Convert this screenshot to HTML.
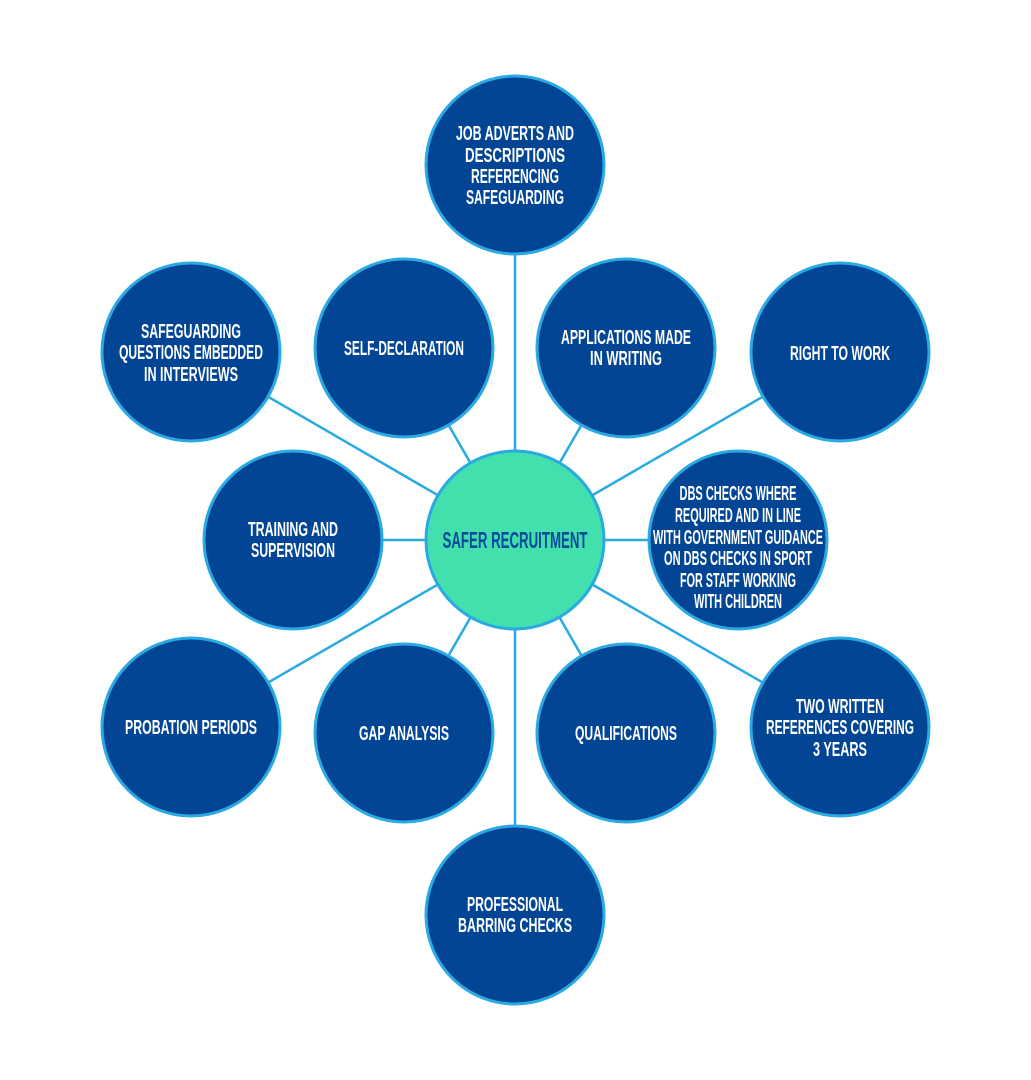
<!DOCTYPE html>
<html><head><meta charset="utf-8"><style>
html,body{margin:0;padding:0;background:#fff;}
svg{display:block}
text{font-family:"Liberation Sans Narrow","Liberation Sans",sans-serif;font-weight:bold;fill:#fff;text-anchor:middle;font-size:20px;}
</style></head><body>
<svg width="1031" height="1080" viewBox="0 0 1031 1080" xmlns="http://www.w3.org/2000/svg">
<g stroke="#2aa9e2" stroke-width="2.5">
<line x1="515" y1="540" x2="515" y2="165"/>
<line x1="515" y1="540" x2="404" y2="348"/>
<line x1="515" y1="540" x2="626" y2="348"/>
<line x1="515" y1="540" x2="840" y2="352"/>
<line x1="515" y1="540" x2="191" y2="352"/>
<line x1="515" y1="540" x2="293" y2="540"/>
<line x1="515" y1="540" x2="738" y2="540"/>
<line x1="515" y1="540" x2="191" y2="727"/>
<line x1="515" y1="540" x2="404" y2="733"/>
<line x1="515" y1="540" x2="626" y2="733"/>
<line x1="515" y1="540" x2="840" y2="727"/>
<line x1="515" y1="540" x2="515" y2="915"/>
</g>
<g fill="#024595" stroke="#2aa9e2" stroke-width="3">
<circle cx="515" cy="165" r="89"/>
<circle cx="404" cy="348" r="89"/>
<circle cx="626" cy="348" r="89"/>
<circle cx="840" cy="352" r="89"/>
<circle cx="191" cy="352" r="89"/>
<circle cx="293" cy="540" r="89"/>
<circle cx="738" cy="540" r="89"/>
<circle cx="191" cy="727" r="89"/>
<circle cx="404" cy="733" r="89"/>
<circle cx="626" cy="733" r="89"/>
<circle cx="840" cy="727" r="89"/>
<circle cx="515" cy="915" r="89"/>
</g>
<circle cx="515" cy="540" r="89" fill="#42e0ad" stroke="#2aa9e2" stroke-width="3"/>
<text x="515" y="548" style="fill:#064a9c;font-size:23px" textLength="145" lengthAdjust="spacingAndGlyphs">SAFER RECRUITMENT</text>

<text x="515" y="140" textLength="118" lengthAdjust="spacingAndGlyphs">JOB ADVERTS AND</text>
<text x="515" y="162" textLength="100" lengthAdjust="spacingAndGlyphs">DESCRIPTIONS</text>
<text x="515" y="183" textLength="88" lengthAdjust="spacingAndGlyphs">REFERENCING</text>
<text x="515" y="204" textLength="98" lengthAdjust="spacingAndGlyphs">SAFEGUARDING</text>

<text x="404" y="355" textLength="120" lengthAdjust="spacingAndGlyphs">SELF-DECLARATION</text>

<text x="626" y="344" textLength="130" lengthAdjust="spacingAndGlyphs">APPLICATIONS MADE</text>
<text x="626" y="365" textLength="72" lengthAdjust="spacingAndGlyphs">IN WRITING</text>

<text x="840" y="360" textLength="100" lengthAdjust="spacingAndGlyphs">RIGHT TO WORK</text>

<text x="191" y="338" textLength="100" lengthAdjust="spacingAndGlyphs">SAFEGUARDING</text>
<text x="191" y="359" textLength="144" lengthAdjust="spacingAndGlyphs">QUESTIONS EMBEDDED</text>
<text x="191" y="381" textLength="94" lengthAdjust="spacingAndGlyphs">IN INTERVIEWS</text>

<text x="293" y="536" textLength="90" lengthAdjust="spacingAndGlyphs">TRAINING AND</text>
<text x="293" y="557" textLength="84" lengthAdjust="spacingAndGlyphs">SUPERVISION</text>

<g style="font-size:19px">
<text x="738" y="500" textLength="117" lengthAdjust="spacingAndGlyphs">DBS CHECKS WHERE</text>
<text x="738" y="522" textLength="126" lengthAdjust="spacingAndGlyphs">REQUIRED AND IN LINE</text>
<text x="738" y="544" textLength="170" lengthAdjust="spacingAndGlyphs">WITH GOVERNMENT GUIDANCE</text>
<text x="738" y="565" textLength="148" lengthAdjust="spacingAndGlyphs">ON DBS CHECKS IN SPORT</text>
<text x="738" y="587" textLength="116" lengthAdjust="spacingAndGlyphs">FOR STAFF WORKING</text>
<text x="738" y="608" textLength="88" lengthAdjust="spacingAndGlyphs">WITH CHILDREN</text>
</g>

<text x="191" y="734" textLength="132" lengthAdjust="spacingAndGlyphs">PROBATION PERIODS</text>
<text x="404" y="740" textLength="90" lengthAdjust="spacingAndGlyphs">GAP ANALYSIS</text>
<text x="626" y="740" textLength="102" lengthAdjust="spacingAndGlyphs">QUALIFICATIONS</text>

<text x="840" y="713" textLength="88" lengthAdjust="spacingAndGlyphs">TWO WRITTEN</text>
<text x="840" y="734" textLength="148" lengthAdjust="spacingAndGlyphs">REFERENCES COVERING</text>
<text x="840" y="756" textLength="54" lengthAdjust="spacingAndGlyphs">3 YEARS</text>

<text x="515" y="911" textLength="96" lengthAdjust="spacingAndGlyphs">PROFESSIONAL</text>
<text x="515" y="932" textLength="114" lengthAdjust="spacingAndGlyphs">BARRING CHECKS</text>
</svg>
</body></html>
